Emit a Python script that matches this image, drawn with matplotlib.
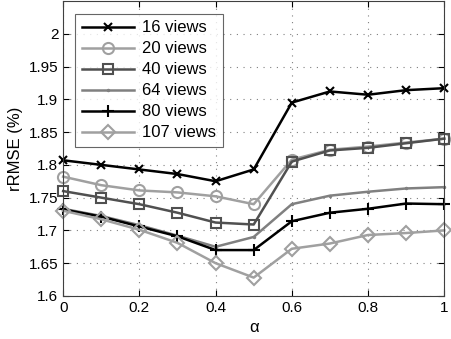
import matplotlib
matplotlib.use("Agg")
import matplotlib.pyplot as plt

alpha = [0, 0.1, 0.2, 0.3, 0.4, 0.5, 0.6, 0.7, 0.8, 0.9, 1.0]
v16 = [1.807, 1.800, 1.793, 1.786, 1.775, 1.793, 1.895, 1.912, 1.907, 1.914, 1.917]
v20 = [1.782, 1.769, 1.761, 1.758, 1.752, 1.740, 1.808, 1.823, 1.828, 1.834, 1.840]
v40 = [1.760, 1.750, 1.740, 1.727, 1.712, 1.709, 1.805, 1.822, 1.826, 1.833, 1.840]
v64 = [1.733, 1.722, 1.708, 1.692, 1.675, 1.690, 1.740, 1.753, 1.759, 1.764, 1.766]
v80 = [1.732, 1.721, 1.706, 1.691, 1.670, 1.670, 1.714, 1.727, 1.733, 1.741, 1.740]
v107 = [1.730, 1.717, 1.701, 1.681, 1.650, 1.628, 1.672, 1.680, 1.693, 1.696, 1.700]
labels = ["16 views", "20 views", "40 views", "64 views", "80 views", "107 views"]
xticks = [0, 0.2, 0.4, 0.6, 0.8, 1]
xticklabels = ["0", "0.2", "0.4", "0.6", "0.8", "1"]
yticks = [1.6, 1.65, 1.7, 1.75, 1.8, 1.85, 1.9, 1.95, 2.0]
yticklabels = ["1.6", "1.65", "1.7", "1.75", "1.8", "1.85", "1.9", "1.95", "2"]

plt.rcParams['font.family'] = ['Liberation Sans', 'DejaVu Sans']
fig = plt.figure(figsize=(4.51, 3.39), dpi=100)
ax = fig.add_axes([0.14, 0.127, 0.845, 0.870])

series = [v16, v20, v40, v64, v80, v107]
styles = [
    dict(color='#000000', marker='x', ms=6, mew=1.5, lw=1.8),
    dict(color='#a0a0a0', marker='o', ms=8, mfc='none', mew=1.5, lw=1.8),
    dict(color='#505050', marker='s', ms=7, mfc='none', mew=1.5, lw=1.8),
    dict(color='#808080', marker='.', ms=3, lw=1.8),
    dict(color='#000000', marker='+', ms=9, mew=1.5, lw=1.8),
    dict(color='#a0a0a0', marker='D', ms=7, mfc='none', mew=1.5, lw=1.8),
]
for ys, lab, st in zip(series, labels, styles):
    ax.plot(alpha, ys, label=lab, clip_on=False, **st)

ax.set_xlim(0, 1)
ax.set_ylim(1.6, 2.05)
ax.set_xticks(xticks)
ax.set_xticklabels(xticklabels)
ax.set_yticks(yticks)
ax.set_yticklabels(yticklabels)
ax.tick_params(direction='in', labelsize=11, length=4, top=True, right=True)
ax.grid(True, linestyle=(0, (1, 5)), color='#808080', lw=0.8)
for s in ax.spines.values():
    s.set_color('#404040')
ax.set_xlabel('α', fontsize=12)
ax.set_ylabel('rRMSE (%)', fontsize=12)
leg = ax.legend(loc='upper left', fontsize=12, frameon=True, fancybox=False,
                edgecolor='#404040', handlelength=3.1, handletextpad=0.5,
                borderpad=0.4, labelspacing=0.36, bbox_to_anchor=(0.01, 0.985))
leg.get_frame().set_linewidth(0.8)
fig.savefig('out.png', dpi=100)
